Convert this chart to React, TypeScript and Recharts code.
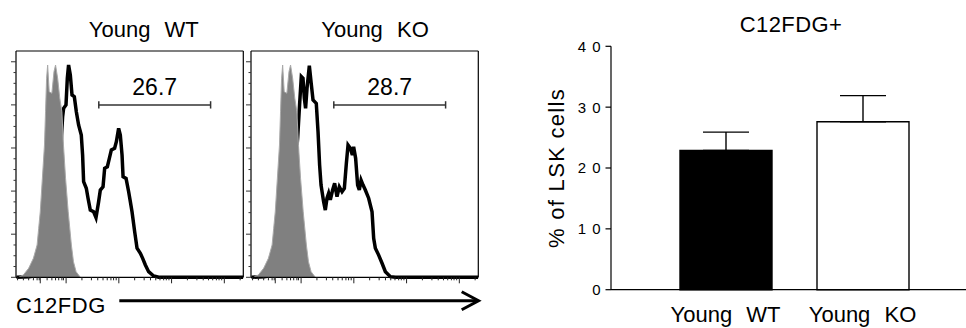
import React from 'react';
import {
  ComposedChart,
  Area,
  XAxis,
  YAxis,
  ReferenceLine,
  BarChart,
  Bar,
  Cell,
  ErrorBar,
} from 'recharts';

const FONT = '"Liberation Sans", Arial, Helvetica, sans-serif';

// flow histograms: x = biexponential display scale (log10 units), y = % of max
const controlTrace: [number, number][] = [
  [1.1, 0], [1.19, 1.1], [1.29, 4.2], [1.38, 8.8], [1.45, 15], [1.48, 22.7],
  [1.51, 30.4], [1.55, 45.9], [1.59, 61.4], [1.61, 76.8], [1.63, 92.3],
  [1.65, 98.5], [1.68, 86.1], [1.73, 85.4], [1.77, 95.4], [1.8, 98.5],
  [1.84, 92.3], [1.88, 83.1], [1.92, 76.8], [1.95, 61.4], [1.99, 45.9],
  [2.04, 30.4], [2.1, 15], [2.14, 7.2], [2.19, 2.6], [2.27, 0],
];

const wtTrace: [number, number][] = [
  [1.06, 0], [1.3, 0.3], [1.5, 1], [1.6, 4], [1.7, 12], [1.8, 30], [1.88, 52],
  [1.934, 74.5], [1.953, 78.4], [1.998, 80], [2.023, 92.3], [2.047, 98.5],
  [2.08, 93.9], [2.112, 84.6], [2.156, 83.8], [2.194, 76.8], [2.237, 70.7],
  [2.288, 66], [2.313, 56.7], [2.332, 44.4], [2.383, 41.3], [2.416, 36.7],
  [2.459, 31.2], [2.522, 30.4], [2.567, 27.7], [2.617, 35.1], [2.649, 40.5],
  [2.7, 42], [2.731, 50.6], [2.782, 51.3], [2.82, 55.2], [2.858, 59.1],
  [2.92, 59.9], [2.953, 62.9], [2.996, 69.1], [3.028, 66], [3.061, 56.7],
  [3.08, 46.7], [3.137, 45.9], [3.186, 39.7], [3.218, 35.1], [3.25, 30.4],
  [3.3, 21.2], [3.345, 13.5], [3.408, 11.1], [3.452, 8.8], [3.503, 5.7],
  [3.565, 2.6], [3.66, 0.6], [3.755, 0], [5.36, 0],
];

const koTrace: [number, number][] = [
  [1.06, 0], [1.3, 0.3], [1.5, 1], [1.6, 4], [1.7, 12], [1.8, 28], [1.88, 48],
  [1.934, 64.5], [1.971, 80], [2.004, 93.1], [2.036, 92.3], [2.061, 83.1],
  [2.085, 78.4], [2.112, 87.7], [2.156, 98.2], [2.188, 90.8], [2.226, 82.3],
  [2.288, 80.7], [2.321, 67.6], [2.351, 52.1], [2.378, 42.8], [2.427, 35.1],
  [2.459, 31.2], [2.491, 36.7], [2.522, 39], [2.554, 35.9], [2.598, 40.5],
  [2.636, 43.6], [2.681, 37.4], [2.725, 42], [2.776, 39.7], [2.82, 41.3],
  [2.858, 52.9], [2.89, 61.4], [2.934, 59.9], [2.972, 56.7], [2.996, 60.6],
  [3.034, 55.2], [3.072, 42.8], [3.104, 40.5], [3.137, 45.1], [3.175, 42.8],
  [3.218, 40.5], [3.281, 36.7], [3.345, 30.4], [3.376, 18.1], [3.408, 13.5],
  [3.471, 10.3], [3.535, 6.5], [3.598, 2.6], [3.693, 0.3], [3.787, 0], [5.36, 0],
];

const histTitles = ['Young WT', 'Young KO'];
const gateLabels = ['26.7', '28.7'];
const gateRange = [2.62, 4.74];
const gateLevel = 80;

const histXDomain = [1.05, 5.36];
const histYDomain = [0, 105];
const xMajorTicks = [1.51, 2, 3, 4, 5];
const xMinorTicks = [
  1.08, 1.19, 1.29, 1.38, 1.45, 1.49,
  1.64, 1.73, 1.8, 1.86, 1.92, 1.95,
  2.3, 2.48, 2.6, 2.7, 2.78, 2.85, 2.9, 2.95,
  3.3, 3.48, 3.6, 3.7, 3.78, 3.85, 3.9, 3.95,
  4.3, 4.48, 4.6, 4.7, 4.78, 4.85, 4.9, 4.95,
  5.3,
];
const yMajorTicks = [0, 20, 40, 60, 80, 100];
const yMinorTicks = [5, 10, 15, 25, 30, 35, 45, 50, 55, 65, 70, 75, 85, 90, 95];

// bar chart
const groups = ['Young WT', 'Young KO'];
const meanPct = [22.9, 27.6];
const semPct = [3.0, 4.3];
const barFills = ['#000000', '#ffffff'];
const barTicks = [0, 10, 20, 30, 40];

const toPoints = (trace: [number, number][]) => trace.map(([x, y]) => ({ x, y }));

const HistXTick = (props: any) => {
  const { x, y, payload } = props;
  const len = xMajorTicks.includes(payload.value) ? 6 : 3;
  return <line x1={x} x2={x} y1={y} y2={y + len} stroke="#222" strokeWidth={1} />;
};

const HistYTick = (props: any) => {
  const { x, y, payload } = props;
  const len = yMajorTicks.includes(payload.value) ? 5 : 2.5;
  return <line x1={x - len} x2={x} y1={y} y2={y} stroke="#333" strokeWidth={1} />;
};

const BarYTick = (props: any) => {
  const { x, y, payload } = props;
  return (
    <text x={x + 6} y={y} dy="0.36em" textAnchor="end" fontSize={15} fontFamily={FONT} letterSpacing={6} fill="#000">
      {payload.value}
    </text>
  );
};

const BarXTick = (props: any) => {
  const { x, y, payload } = props;
  return (
    <text x={x} y={y + 32} textAnchor="middle" fontSize={22} fontFamily={FONT} wordSpacing={8} fill="#000">
      {payload.value}
    </text>
  );
};

function FlowPanel({ trace, gateLabel, left }: { trace: [number, number][]; gateLabel: string; left: number }) {
  const boxLine = { stroke: '#000', strokeWidth: 1.2 };
  return (
    <div style={{ position: 'absolute', left, top: 0 }}>
      <ComposedChart width={260} height={300} margin={{ top: 50, right: 15.7, bottom: 21.7, left: 15 }}>
        <XAxis
          xAxisId="b"
          type="number"
          dataKey="x"
          domain={histXDomain}
          allowDataOverflow
          ticks={[...xMajorTicks, ...xMinorTicks].sort((a, b) => a - b)}
          interval={0}
          tick={<HistXTick />}
          tickLine={false}
          tickSize={0}
          tickMargin={0}
          height={1}
          axisLine={boxLine}
        />
        <XAxis xAxisId="t" orientation="top" type="number" domain={histXDomain} tick={false} tickLine={false} height={1} axisLine={boxLine} />
        <YAxis
          yAxisId="l"
          type="number"
          domain={histYDomain}
          ticks={[...yMajorTicks, ...yMinorTicks].sort((a, b) => a - b)}
          interval={0}
          tick={<HistYTick />}
          tickLine={false}
          tickSize={0}
          tickMargin={0}
          width={1}
          axisLine={boxLine}
        />
        <YAxis yAxisId="r" orientation="right" type="number" domain={histYDomain} tick={false} tickLine={false} width={1} axisLine={boxLine} />
        {/* sample trace drawn first so the filled control sits over it */}
        <Area
          xAxisId="b"
          yAxisId="l"
          data={toPoints(trace)}
          dataKey="y"
          type="linear"
          fill="none"
          fillOpacity={0}
          stroke="#000"
          strokeWidth={3.5}
          isAnimationActive={false}
        />
        <Area
          xAxisId="b"
          yAxisId="l"
          data={toPoints(controlTrace)}
          dataKey="y"
          type="linear"
          fill="#808080"
          fillOpacity={1}
          stroke="#a9a9a9"
          strokeWidth={1}
          isAnimationActive={false}
        />
        <ReferenceLine
          xAxisId="b"
          yAxisId="l"
          segment={[{ x: gateRange[0], y: gateLevel }, { x: gateRange[1], y: gateLevel }]}
          stroke="#333"
          strokeWidth={1.5}
          label={{ value: gateLabel, position: 'top', offset: 10, fill: '#000', fontSize: 23, fontFamily: FONT }}
        />
        {gateRange.map((g) => (
          <ReferenceLine
            key={g}
            xAxisId="b"
            yAxisId="l"
            segment={[{ x: g, y: gateLevel - 1.7 }, { x: g, y: gateLevel + 1.7 }]}
            stroke="#333"
            strokeWidth={1.5}
          />
        ))}
      </ComposedChart>
    </div>
  );
}

export default function App() {
  const barTable = groups.map((g, i) => ({ group: g, mean: meanPct[i], err: [0, semPct[i]] }));
  const axisLine = { stroke: '#000', strokeWidth: 1.2 };

  return (
    <div style={{ position: 'absolute', left: 0, top: 0, width: 966, height: 328, background: '#fff', overflow: 'hidden' }}>
      <FlowPanel trace={wtTrace} gateLabel={gateLabels[0]} left={0} />
      <FlowPanel trace={koTrace} gateLabel={gateLabels[1]} left={235} />

      <div style={{ position: 'absolute', left: 500, top: 0 }}>
        <BarChart width={466} height={328} data={barTable} margin={{ top: 46.3, right: 0, bottom: 0, left: 0 }}>
          <XAxis
            dataKey="group"
            height={38.3}
            padding={{ left: 46, right: 35 }}
            tickLine={false}
            tickSize={0}
            tickMargin={0}
            interval={0}
            tick={<BarXTick />}
            axisLine={axisLine}
          />
          <YAxis
            type="number"
            domain={[0, 40]}
            ticks={barTicks}
            interval={0}
            width={111}
            tickSize={5.5}
            tickMargin={5}
            tick={<BarYTick />}
            tickLine={{ stroke: '#000', strokeWidth: 1.2 }}
            axisLine={axisLine}
            label={{
              value: '% of LSK cells',
              angle: -90,
              position: 'center',
              dx: 1,
              fill: '#000',
              fontSize: 22,
              fontFamily: FONT,
              letterSpacing: 1.3,
            }}
          />
          <Bar dataKey="mean" barSize={92} stroke="#000" strokeWidth={1.4} isAnimationActive={false}>
            {barTable.map((d, i) => (
              <Cell key={d.group} fill={barFills[i]} />
            ))}
            <ErrorBar dataKey="err" direction="y" width={23} stroke="#000" strokeWidth={1.4} isAnimationActive={false} />
          </Bar>
        </BarChart>
      </div>

      <svg width={966} height={328} style={{ position: 'absolute', left: 0, top: 0, pointerEvents: 'none' }}>
        <g fontFamily={FONT} fill="#000" fontSize={22}>
          <text x={143.8} y={37.3} textAnchor="middle" wordSpacing={8}>{histTitles[0]}</text>
          <text x={375} y={37.3} textAnchor="middle" wordSpacing={8}>{histTitles[1]}</text>
          <text x={791} y={31.7} textAnchor="middle" letterSpacing={0.4}>C12FDG+</text>
          <text x={16} y={312.5} letterSpacing={0.5}>C12FDG</text>
        </g>
        <line x1={119.3} y1={300.7} x2={477} y2={300.7} stroke="#000" strokeWidth={3} />
        <polyline points="461.7,291.7 478.5,300.7 461.7,309.7" fill="none" stroke="#000" strokeWidth={3} />
      </svg>
    </div>
  );
}
